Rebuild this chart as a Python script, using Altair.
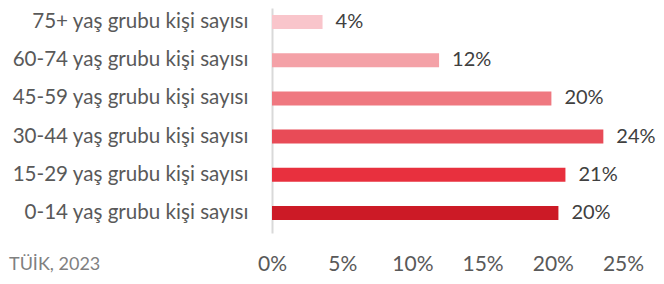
import altair as alt
import pandas as pd

categories = [
    "75+ yaş grubu kişi sayısı",
    "60-74 yaş grubu kişi sayısı",
    "45-59 yaş grubu kişi sayısı",
    "30-44 yaş grubu kişi sayısı",
    "15-29 yaş grubu kişi sayısı",
    "0-14 yaş grubu kişi sayısı",
]
values = [3.6, 11.9, 19.9, 23.6, 20.9, 20.4]
labels = ["4%", "12%", "20%", "24%", "21%", "20%"]
colors = ["#F9C5CB", "#F4A1A7", "#EF7880", "#E84B57", "#E8303E", "#CC1A26"]
x_ticks = [0, 5, 10, 15, 20, 25]
source_note = ["TÜİK, 2023"]

df = pd.DataFrame({"cat": categories, "val": values, "lab": labels, "col": colors})

FONT = "Lato"

y_enc = alt.Y(
    "cat:N",
    sort=categories,
    title=None,
    scale=alt.Scale(paddingInner=0.633, paddingOuter=0.2616, align=0.35),
    axis=alt.Axis(
        ticks=False,
        domain=True,
        domainColor="#D9D9D9",
        domainWidth=2,
        labelFont=FONT,
        labelFontSize=20.6,
        labelColor="#595959",
        labelPadding=24,
        labelLimit=400,
    ),
)

x_enc = alt.X(
    "val:Q",
    title=None,
    scale=alt.Scale(domain=[0, 25], nice=False),
    axis=alt.Axis(
        values=x_ticks,
        grid=False,
        domain=False,
        ticks=False,
        labelExpr="datum.value + '%'",
        labelFont=FONT,
        labelFontSize=21,
        labelColor="#595959",
        labelBaseline="middle",
        labelPadding=31,
        labelFlush=False,
    ),
)

bars = alt.Chart(df).mark_bar().encode(
    x=x_enc,
    y=y_enc,
    color=alt.Color("col:N", scale=None),
)

text = alt.Chart(df).mark_text(
    align="left", baseline="middle", dx=13, font=FONT, fontSize=20, color="#404040"
).encode(
    x=alt.X("val:Q"),
    y=alt.Y("cat:N", sort=categories),
    text="lab:N",
)

note = alt.Chart(pd.DataFrame({"t": source_note})).mark_text(
    align="left", baseline="alphabetic", font=FONT, fontSize=18, color="#808080"
).encode(
    x=alt.value(-263),
    y=alt.value(262),
    text="t:N",
)

chart = (
    alt.layer(bars, text, note)
    .properties(
        width=351,
        height=225,
        padding={"left": 264, "top": 0, "right": 33, "bottom": 43},
        autosize=alt.AutoSizeParams(type="none"),
    )
    .configure_view(stroke=None)
)

chart.save("out.html", embed_options={"renderer": "svg", "actions": False})
